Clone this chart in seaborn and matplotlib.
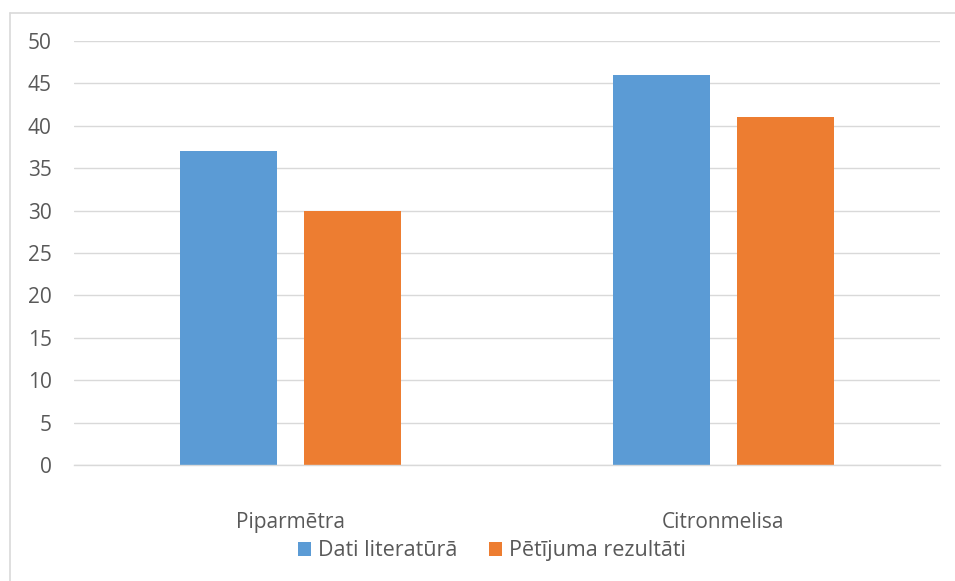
import matplotlib
matplotlib.use("Agg")
import matplotlib.pyplot as plt
import seaborn as sns
import pandas as pd
from matplotlib.lines import Line2D
from matplotlib.patches import Patch

# data
categories = ["Piparmētra", "Citronmelisa"]
series_names = ["Dati literatūrā", "Pētījuma rezultāti"]
lit_values = [37, 46]
res_values = [30, 41]
colors = ["#5B9BD5", "#ED7D31"]

df = pd.DataFrame({
    "kategorija": categories * 2,
    "serija": [series_names[0]] * 2 + [series_names[1]] * 2,
    "vertiba": lit_values + res_values,
})

sns.set_style("white")
plt.rcParams["font.family"] = ["Open Sans", "DejaVu Sans"]

fig = plt.figure(figsize=(9.55, 5.81), dpi=100)
ax = fig.add_axes([0.0775, 0.1997, 0.9065, 0.7297])

sns.barplot(data=df, x="kategorija", y="vertiba", hue="serija",
            palette=colors, width=0.573, gap=0.22, ax=ax, legend=False,
            saturation=1, edgecolor="none")

ax.set_ylim(0, 50)
ax.set_yticks(range(0, 51, 5))
ax.set_xlim(-0.5, 1.5)
ax.set_xlabel("")
ax.set_ylabel("")
ax.grid(axis="y", color="#D9D9D9", linewidth=1)
ax.set_axisbelow(True)
for s in ["top", "right", "left"]:
    ax.spines[s].set_visible(False)
ax.spines["bottom"].set_color("#D9D9D9")
ax.spines["bottom"].set_linewidth(1)
ax.tick_params(axis="y", length=0, pad=16, labelsize=15, labelcolor="#595959")
ax.tick_params(axis="x", length=0, pad=34, labelsize=15, labelcolor="#595959")

# legend at bottom
handles = [Patch(facecolor=c, edgecolor="none") for c in colors]
fig.legend(handles, series_names, loc="center", bbox_to_anchor=(0.515, 0.052),
           ncol=2, frameon=False, fontsize=15.5, labelcolor="#595959",
           handlelength=0.6, handleheight=0.6, handletextpad=0.3,
           columnspacing=1.5)

# chart border
fig.add_artist(Line2D([9.5 / 955, 1], [1 - 12.5 / 581, 1 - 12.5 / 581],
                      color="#D9D9D9", linewidth=1.2, transform=fig.transFigure))
fig.add_artist(Line2D([9.5 / 955, 9.5 / 955], [0, 1 - 12.5 / 581],
                      color="#D9D9D9", linewidth=1.2, transform=fig.transFigure))

fig.savefig("out.png", dpi=100)
